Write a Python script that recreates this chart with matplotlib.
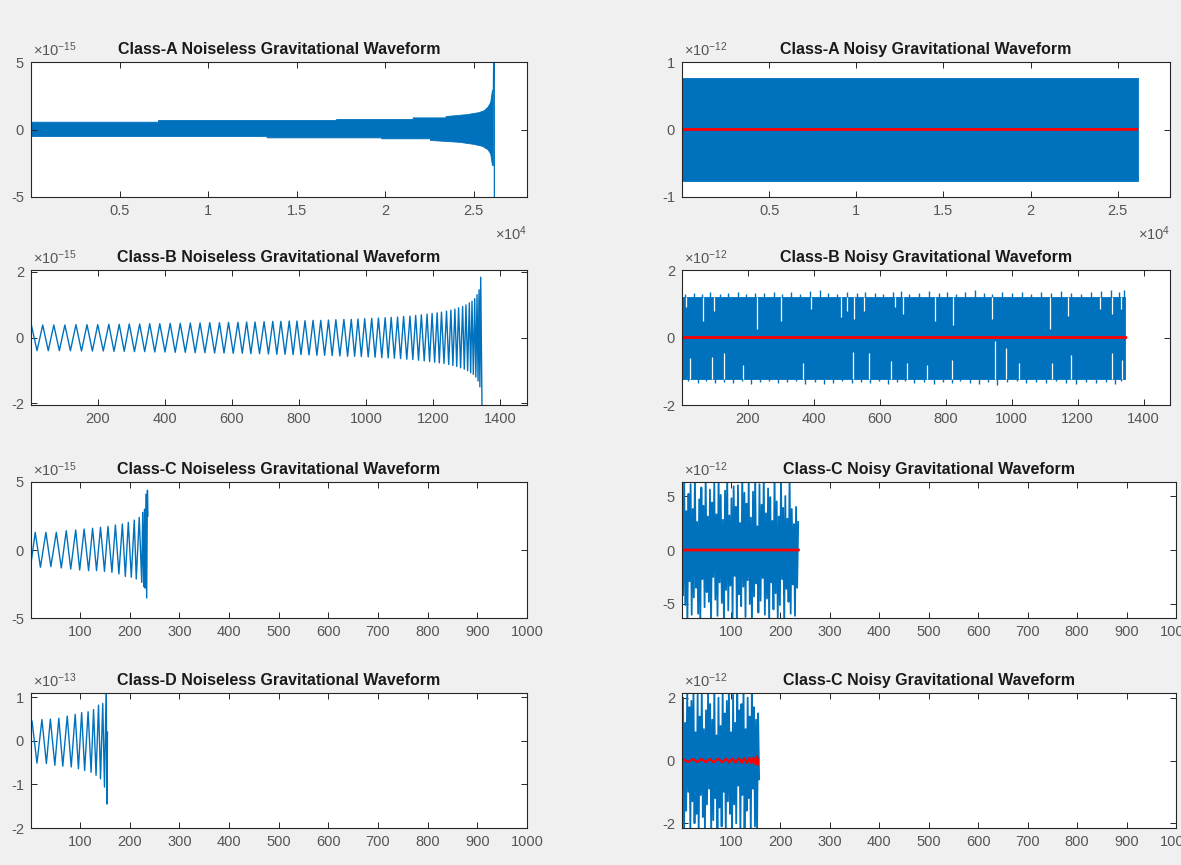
import numpy as np
import matplotlib
matplotlib.use('Agg')
import matplotlib.pyplot as plt

FONT = ['Liberation Sans Narrow', 'Liberation Sans', 'DejaVu Sans']
plt.rcParams['font.family'] = FONT
plt.rcParams['mathtext.fontset'] = 'custom'
plt.rcParams['mathtext.rm'] = 'Liberation Sans'
plt.rcParams['mathtext.it'] = 'Liberation Sans'

BLUE = '#0072BD'
RED = '#FF0000'

# ---------------- data ----------------
titles = ['Class-A Noiseless Gravitational Waveform', 'Class-A Noisy Gravitational Waveform',
          'Class-B Noiseless Gravitational Waveform', 'Class-B Noisy Gravitational Waveform',
          'Class-C Noiseless Gravitational Waveform', 'Class-C Noisy Gravitational Waveform',
          'Class-D Noiseless Gravitational Waveform', 'Class-C Noisy Gravitational Waveform']

# Class-A noiseless (x1e-15): envelope of the dense oscillation
a_up_x = [1, 7200, 7200, 17250, 17250, 21570, 21570, 23430, 23430, 24600, 25300, 25600, 25800, 25950, 26050, 26100]
a_up_y = [0.54, 0.54, 0.67, 0.67, 0.74, 0.74, 0.86, 0.86, 0.96, 1.1, 1.25, 1.4, 1.65, 2.0, 2.9, 2.9]
a_lo_x = [1, 13330, 13330, 19800, 19800, 22550, 22550, 24200, 25000, 25500, 25800, 25950, 26050, 26100]
a_lo_y = [-0.52, -0.52, -0.62, -0.62, -0.69, -0.69, -0.81, -0.95, -1.1, -1.25, -1.5, -1.8, -2.67, -2.67]
a_tail_x = [26100, 26150, 26160]
a_tail_y = [2.9, 9.0, -9.0]

# Class-A noisy (x1e-12): band limits
a_noisy_x = [1, 26170]
a_noisy_hi = 0.77
a_noisy_lo = -0.76

# Class-B noiseless (x1e-15): extremum positions / values
b_peak_x = [2, 36, 69, 102, 135, 168, 200, 233, 264, 294, 325, 355, 385, 416, 446, 476, 505, 534, 563, 590,
            618, 644, 669, 696, 722, 746, 771, 794, 818, 842, 865, 888, 910, 934, 956, 976, 996, 1017, 1037, 1057,
            1075, 1094, 1112, 1131, 1148, 1165, 1182, 1197, 1212, 1225, 1240, 1253, 1265, 1276, 1288, 1298, 1308,
            1316, 1324, 1331, 1337, 1342]
b_peak_y = [0.38, 0.38, 0.38, 0.38, 0.39, 0.39, 0.39, 0.40, 0.40, 0.41, 0.41, 0.42, 0.42, 0.43, 0.43, 0.44, 0.44,
            0.45, 0.45, 0.46, 0.46, 0.47, 0.47, 0.48, 0.49, 0.49, 0.50, 0.50, 0.51, 0.52, 0.52, 0.53, 0.54, 0.55,
            0.55, 0.56, 0.57, 0.58, 0.59, 0.60, 0.61, 0.62, 0.64, 0.65, 0.67, 0.69, 0.71, 0.73, 0.75, 0.77, 0.80,
            0.83, 0.86, 0.90, 0.94, 0.99, 1.05, 1.10, 1.18, 1.30, 1.45, 1.83]
b_trough_y = [-0.40, -0.40, -0.40, -0.40, -0.41, -0.41, -0.41, -0.42, -0.42, -0.43, -0.43, -0.44, -0.44, -0.45,
              -0.45, -0.46, -0.46, -0.47, -0.47, -0.48, -0.48, -0.49, -0.49, -0.50, -0.51, -0.51, -0.52, -0.52,
              -0.53, -0.54, -0.54, -0.55, -0.56, -0.57, -0.57, -0.58, -0.59, -0.60, -0.61, -0.62, -0.63, -0.64,
              -0.66, -0.67, -0.69, -0.71, -0.73, -0.75, -0.77, -0.79, -0.82, -0.85, -0.88, -0.92, -0.96, -1.01,
              -1.07, -1.12, -1.20, -1.32, -1.50, -2.30]
b_end_x = 1346

# Class-B noisy (x1e-12)
b_noisy_x = [1, 1345]
b_noisy_hi = 1.2
b_noisy_lo = -1.22
b_up_x = [10, 38, 62, 85, 115, 140, 170, 195, 222, 250, 280, 305, 330, 360, 390, 420, 445, 470, 500, 530,
          555, 585, 610, 640, 665, 690, 720, 750, 780, 805, 830, 860, 890, 915, 940, 970, 1000, 1030, 1060, 1090,
          1120, 1150, 1180, 1210, 1240, 1270, 1300, 1325, 1340]
b_up_y = [1.28, 1.33, 1.30, 1.35, 1.29, 1.32, 1.36, 1.28, 1.33, 1.31, 1.35, 1.30, 1.34, 1.29, 1.37, 1.40, 1.32,
          1.30, 1.35, 1.31, 1.36, 1.33, 1.29, 1.34, 1.37, 1.30, 1.33, 1.38, 1.31, 1.35, 1.29, 1.34, 1.40, 1.32,
          1.30, 1.36, 1.33, 1.35, 1.29, 1.34, 1.31, 1.37, 1.33, 1.30, 1.35, 1.39, 1.41, 1.36, 1.42]
b_lo_x = [20, 50, 75, 100, 128, 155, 182, 210, 236, 265, 292, 318, 345, 375, 405, 432, 458, 485, 515, 542,
          570, 598, 625, 652, 678, 705, 735, 765, 792, 818, 845, 875, 902, 928, 955, 985, 1015, 1045, 1075, 1105,
          1135, 1165, 1195, 1225, 1255, 1285, 1312, 1332]
b_lo_y = [-1.30, -1.34, -1.28, -1.36, -1.31, -1.35, -1.29, -1.38, -1.32, -1.30, -1.36, -1.33, -1.29, -1.37,
          -1.31, -1.38, -1.34, -1.30, -1.36, -1.32, -1.35, -1.29, -1.37, -1.33, -1.30, -1.36, -1.31, -1.39,
          -1.33, -1.35, -1.30, -1.34, -1.37, -1.31, -1.40, -1.33, -1.30, -1.36, -1.32, -1.35, -1.29, -1.34,
          -1.37, -1.31, -1.36, -1.33, -1.38, -1.30]
b_updip_x = [12, 64, 98, 228, 301, 392, 484, 500, 521, 554, 646, 672, 768, 823, 940, 1116, 1171, 1267, 1304, 1330]
b_updip_y = [0.9, 0.5, 0.8, 0.24, 0.5, 0.85, 0.6, 0.8, 0.56, 0.8, 0.9, 0.7, 0.5, 0.38, 0.56, 0.26, 0.65, 0.85,
             0.7, 0.85]
b_lodip_x = [25, 92, 129, 186, 369, 519, 568, 635, 683, 745, 818, 949, 982, 1022, 1121, 1179, 1304, 1335]
b_lodip_y = [-0.61, -0.57, -0.47, -0.81, -0.76, -0.42, -0.47, -0.71, -0.76, -0.81, -0.66, -0.11, -0.32, -0.76,
             -0.76, -0.52, -0.47, -0.66]

# Class-C noiseless (x1e-15)
c_ext_x = [1, 9.5, 20, 31, 41, 52, 62, 72, 81, 91, 99, 108, 117, 125, 133, 141, 149, 156, 164, 171, 178, 185,
           191, 197, 203, 209, 213, 219, 224, 226, 228, 229.5, 231, 232.5, 234, 235.5, 236.5]
c_ext_y = [-1.0, 1.3, -1.27, 1.3, -1.22, 1.3, -1.32, 1.42, -1.4, 1.47, -1.47, 1.54, -1.52, 1.6, -1.52, 1.67,
           -1.57, 1.74, -1.64, 1.84, -1.76, 1.91, -1.94, 2.03, -2.0, 2.2, -2.13, 2.4, -2.38, 2.77, -2.7, 3.0,
           -2.8, 4.1, -3.53, 4.4, 2.5]

# Class-C noisy (x1e-12)
c_noisy = [2.3, -4.2, 7.0, -5.1, 3.6, -7.0, 5.2, -2.9, 6.1, -6.0,
           3.8, -4.4, 7.0, -3.5, 2.6, -5.9, 4.7, -7.0, 5.8, -2.7,
           4.1, -5.3, 7.0, -3.9, 3.1, -4.8, 5.6, -7.0, 4.4, -2.5,
           6.2, -4.6, 3.3, -6.1, 7.0, -3.0, 5.1, -4.9, 2.8, -7.0,
           5.5, -3.7, 7.0, -5.6, 3.2, -3.3, 4.8, -6.3, 5.9, -2.4,
           4.0, -7.0, 6.0, -4.1, 2.5, -5.2, 7.0, -3.4, 5.3, -6.2,
           4.3, -2.8, 6.4, -5.0, 3.0, -7.0, 5.4, -4.3, 7.0, -3.1,
           2.2, -5.8, 6.1, -4.7, 4.2, -2.6, 7.0, -6.0, 3.4, -4.5,
           5.7, -7.0, 4.9, -3.0, 2.7, -5.5, 7.0, -4.0, 4.5, -6.4,
           3.1, -5.1, 6.6, -2.7, 3.9, -7.0, 5.0, -3.6, 2.9, -4.8,
           7.0, -5.9, 3.8, -3.2, 2.4, -6.1, 4.0, -3.5, 2.6]
c_noisy_span = [1, 236]

# Class-D noiseless (x1e-13)
d_ext_x = [1, 3, 13, 23, 32, 40, 49, 57, 65, 74, 82, 90, 96.5, 103, 109, 116, 122, 127, 132, 137, 141, 145.5,
           149, 152.5, 154, 155]
d_ext_y = [0.25, 0.46, -0.51, 0.49, -0.52, 0.5, -0.56, 0.52, -0.58, 0.57, -0.6, 0.61, -0.64, 0.65, -0.68, 0.67,
           -0.72, 0.72, -0.79, 0.82, -0.87, 0.86, -1.06, 1.3, -1.45, 0.2]

# Class-D noisy (x1e-12)
d_noisy = [-0.3, 2.0, -2.3, 1.2, -1.6, 2.3, -1.0, 1.7, -2.3, 1.9,
           -1.3, 2.3, -2.0, 0.9, -1.7, 2.1, -2.3, 1.4, -1.1, 2.3,
           -1.8, 1.0, -2.3, 1.6, -1.4, 2.2, -0.9, 1.8, -2.3, 1.3,
           -1.9, 2.3, -1.2, 0.8, -2.3, 2.0, -1.5, 1.1, -2.1, 2.3,
           -1.0, 1.5, -2.3, 1.9, -1.3, 2.3, -1.7, 0.9, -2.3, 2.1,
           -1.4, 1.2, -2.0, 2.3, -0.8, 1.6, -2.3, 1.8, -1.1, 2.3,
           -2.3, 1.0, -1.6, 2.0, -1.2, 1.4, -2.3, 2.2, -0.9, 1.7,
           -2.1, 1.3, -2.3, 1.5, -0.6]
d_noisy_span = [1, 157]

# tick definitions
xt_a = [5000, 10000, 15000, 20000, 25000]
xt_a_lab = ['0.5', '1', '1.5', '2', '2.5']
xt_b = [200, 400, 600, 800, 1000, 1200, 1400]
xt_cd = [100, 200, 300, 400, 500, 600, 700, 800, 900, 1000]

# ---------------- figure ----------------
fig = plt.figure(figsize=(11.81, 8.65), dpi=100, facecolor='#f0f0f0')


def add_ax(x0, x1, y0, y1):
    return fig.add_axes([x0 / 1181, 1 - y1 / 865, (x1 - x0) / 1181, (y1 - y0) / 865])


def style(ax, title, xlim, xt, xl, ylim, yt, yl, yexp, xexp=None):
    ax.set_facecolor('white')
    ax.set_xlim(*xlim)
    ax.set_ylim(*ylim)
    ax.set_xticks(xt)
    ax.set_xticklabels(xl)
    ax.set_yticks(yt)
    ax.set_yticklabels(yl)
    ax.tick_params(direction='in', top=True, right=True, length=4, width=0.7, color='#262626',
                   labelsize=10.5, labelcolor='#555555', pad=5)
    for s in ax.spines.values():
        s.set_color('#262626')
        s.set_linewidth(0.8)
    ax.set_title(title, fontweight='bold', fontsize=11.5, pad=6, color='#1a1a1a')
    ax.text(0.005, 1.02, r'$\times10^{%s}$' % yexp, transform=ax.transAxes, ha='left', va='bottom',
            fontsize=10.5, color='#555555')
    if xexp:
        ax.text(1.0, -0.2, r'$\times10^{%s}$' % xexp, transform=ax.transAxes, ha='right', va='top',
                fontsize=10.5, color='#555555')


L = (31, 527)
R12 = (682, 1170)
R34 = (682, 1176)
rows = [(62, 197), (270, 405), (482, 618), (693, 828)]

# --- Row 1 left: Class-A noiseless
ax = add_ax(L[0], L[1], *rows[0])
ax.fill(np.r_[a_up_x, a_lo_x[::-1]], np.r_[a_up_y, a_lo_y[::-1]], color=BLUE, lw=0.6)
ax.plot(a_tail_x, a_tail_y, color=BLUE, lw=0.9)
style(ax, titles[0], (1, 28000), xt_a, xt_a_lab, (-5, 5), [-5, 0, 5], ['-5', '0', '5'], '-15', '4')

# --- Row 1 right: Class-A noisy
ax = add_ax(R12[0], R12[1], *rows[0])
ax.fill_between(a_noisy_x, a_noisy_lo, a_noisy_hi, color=BLUE, lw=0.6)
ax.plot(a_up_x, np.array(a_up_y) * 1e-3, color=RED, lw=2)
style(ax, titles[1], (1, 28000), xt_a, xt_a_lab, (-1, 1), [-1, 0, 1], ['-1', '0', '1'], '-12', '4')

# --- Row 2 left: Class-B noiseless
b_trough_x = list((np.array(b_peak_x[:-1]) + np.array(b_peak_x[1:])) / 2) + [b_end_x]
bx = np.ravel(np.column_stack([b_peak_x, b_trough_x]))
by = np.ravel(np.column_stack([b_peak_y, b_trough_y]))
ax = add_ax(L[0], L[1], *rows[1])
ax.plot(bx, by, color=BLUE, lw=1.0)
style(ax, titles[2], (1, 1480), xt_b, [str(v) for v in xt_b], (-2.05, 2.05), [-2, 0, 2], ['-2', '0', '2'], '-15')

# --- Row 2 right: Class-B noisy
ax = add_ax(R12[0], R12[1], *rows[1])
ax.fill_between(b_noisy_x, b_noisy_lo, b_noisy_hi, color=BLUE, lw=0.6)
ax.vlines(b_up_x, b_noisy_hi - 0.05, b_up_y, color=BLUE, lw=1.0)
ax.vlines(b_lo_x, b_lo_y, b_noisy_lo + 0.05, color=BLUE, lw=1.0)
ax.vlines(b_updip_x, b_updip_y, b_noisy_hi + 0.01, color='white', lw=0.9)
ax.vlines(b_lodip_x, b_noisy_lo - 0.01, b_lodip_y, color='white', lw=0.9)
ax.plot(bx, by * 1e-3, color=RED, lw=2)
style(ax, titles[3], (1, 1480), xt_b, [str(v) for v in xt_b], (-2, 2), [-2, 0, 2], ['-2', '0', '2'], '-12')

# --- Row 3 left: Class-C noiseless
ax = add_ax(L[0], L[1], *rows[2])
ax.plot(c_ext_x, c_ext_y, color=BLUE, lw=1.0)
style(ax, titles[4], (1, 1000), xt_cd, [str(v) for v in xt_cd], (-5, 5), [-5, 0, 5], ['-5', '0', '5'], '-15')

# --- Row 3 right: Class-C noisy
ax = add_ax(R34[0], R34[1], *rows[2])
cx = np.linspace(c_noisy_span[0], c_noisy_span[1], len(c_noisy))
ax.plot(cx, c_noisy, color=BLUE, lw=1.3)
ax.plot(c_ext_x, np.array(c_ext_y) * 1e-3, color=RED, lw=2)
style(ax, titles[5], (1, 1000), xt_cd, [str(v) for v in xt_cd], (-6.3, 6.3), [-5, 0, 5], ['-5', '0', '5'], '-12')

# --- Row 4 left: Class-D noiseless
ax = add_ax(L[0], L[1], *rows[3])
ax.plot(d_ext_x, d_ext_y, color=BLUE, lw=1.0)
style(ax, titles[6], (1, 1000), xt_cd, [str(v) for v in xt_cd], (-2, 1.1), [-2, -1, 0, 1],
      ['-2', '-1', '0', '1'], '-13')

# --- Row 4 right: Class-D noisy (titled Class-C in the original)
ax = add_ax(R34[0], R34[1], *rows[3])
dx = np.linspace(d_noisy_span[0], d_noisy_span[1], len(d_noisy))
ax.plot(dx, d_noisy, color=BLUE, lw=1.3)
ax.plot(d_ext_x, np.array(d_ext_y) * 0.1, color=RED, lw=1.6)
style(ax, titles[7], (1, 1000), xt_cd, [str(v) for v in xt_cd], (-2.15, 2.15), [-2, 0, 2], ['-2', '0', '2'], '-12')

fig.savefig('out.png', dpi=100, facecolor=fig.get_facecolor())
